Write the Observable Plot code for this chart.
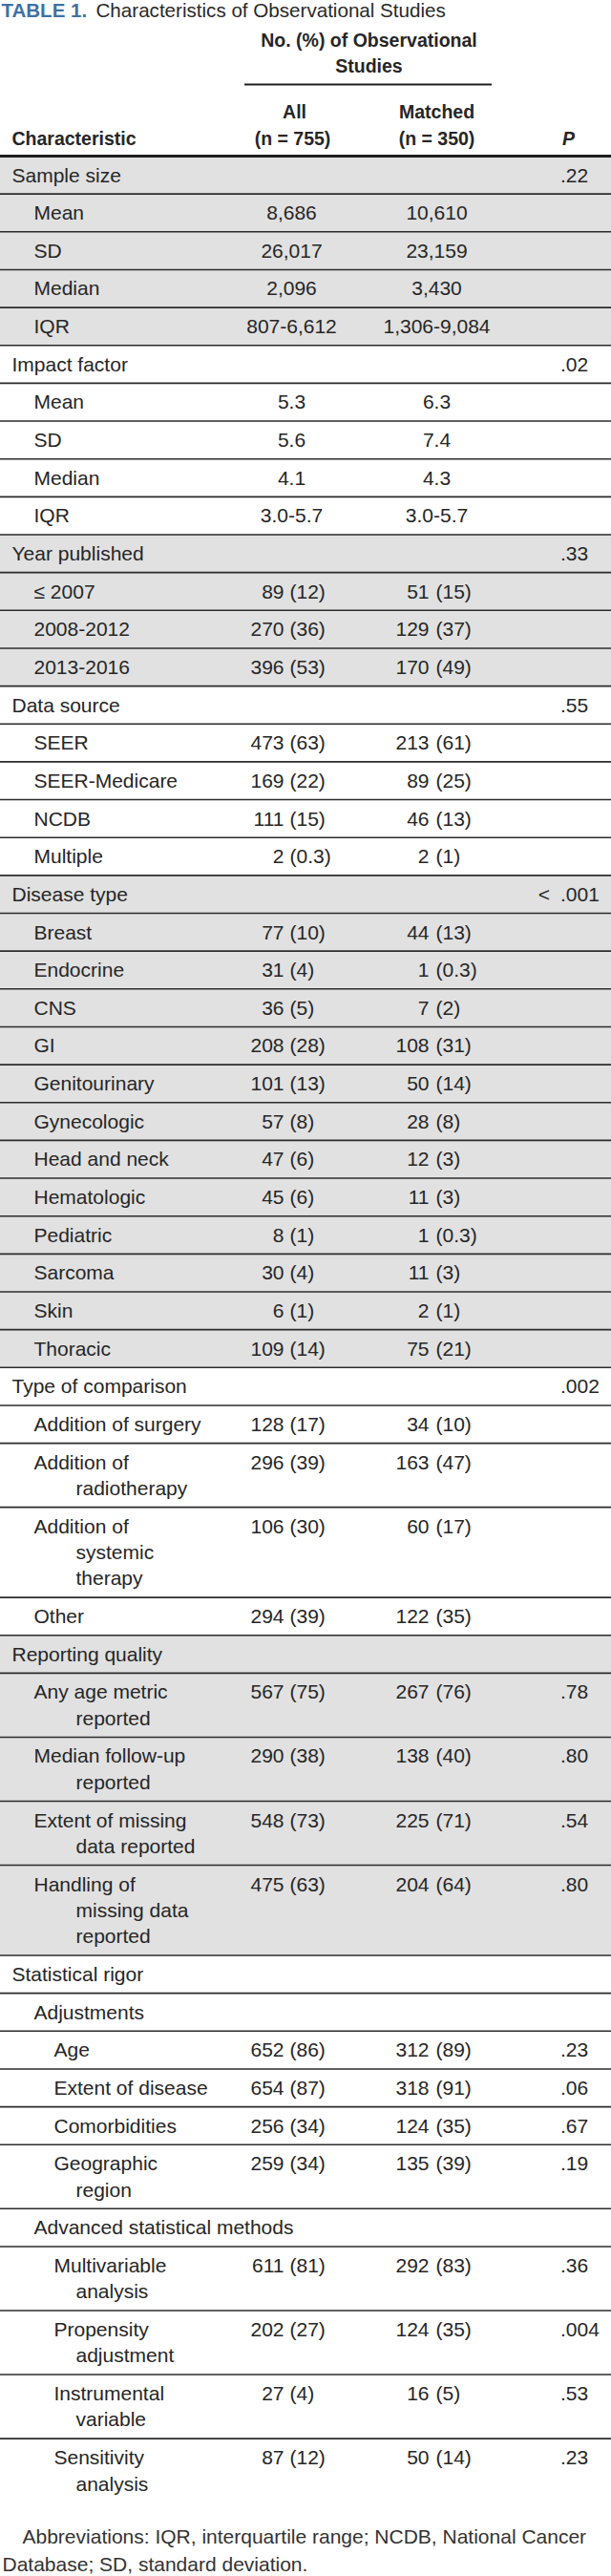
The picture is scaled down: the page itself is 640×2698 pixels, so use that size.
<!DOCTYPE html>
<html>
<head>
<meta charset="utf-8">
<script src="https://cdn.jsdelivr.net/npm/d3@7"></script>
<script src="https://cdn.jsdelivr.net/npm/@observablehq/plot@0.6"></script>
<style>
  html, body { margin: 0; padding: 0; background: #fff; }
  #chart svg { display: block; }
</style>
</head>
<body>
<div id="chart"></div>
<script>
// ---------------- DATA ----------------
const titleLabel = "TABLE 1.";
const titleText = "Characteristics of Observational Studies";
const spannerLines = ["No. (%) of Observational", "Studies"];
const columnHeads = ["All", "Matched"];
const columnNs = ["(n = 755)", "(n = 350)"];
const stubHead = "Characteristic";
const pHead = "P";
const footnoteLines = [
  "Abbreviations: IQR, interquartile range; NCDB, National Cancer",
  "Database; SD, standard deviation."
];

// "|" marks where the label wraps onto the next line
const characteristics = [
  "Sample size", "Mean", "SD", "Median", "IQR",
  "Impact factor", "Mean", "SD", "Median", "IQR",
  "Year published", "≤ 2007", "2008-2012", "2013-2016",
  "Data source", "SEER", "SEER-Medicare", "NCDB", "Multiple",
  "Disease type", "Breast", "Endocrine", "CNS", "GI", "Genitourinary", "Gynecologic",
  "Head and neck", "Hematologic", "Pediatric", "Sarcoma", "Skin", "Thoracic",
  "Type of comparison", "Addition of surgery", "Addition of|radiotherapy",
  "Addition of|systemic|therapy", "Other",
  "Reporting quality", "Any age metric|reported", "Median follow-up|reported",
  "Extent of missing|data reported", "Handling of|missing data|reported",
  "Statistical rigor", "Adjustments", "Age", "Extent of disease", "Comorbidities",
  "Geographic|region", "Advanced statistical methods", "Multivariable|analysis",
  "Propensity|adjustment", "Instrumental|variable", "Sensitivity|analysis"
];
const levels = [
  0, 1, 1, 1, 1,
  0, 1, 1, 1, 1,
  0, 1, 1, 1,
  0, 1, 1, 1, 1,
  0, 1, 1, 1, 1, 1, 1, 1, 1, 1, 1, 1, 1,
  0, 1, 1, 1, 1,
  0, 1, 1, 1, 1,
  0, 1, 2, 2, 2, 2, 1, 2, 2, 2, 2
];
// summary statistics (Sample size and Impact factor blocks)
const statAll = [
  null, "8,686", "26,017", "2,096", "807-6,612",
  null, "5.3", "5.6", "4.1", "3.0-5.7"
];
const statMatched = [
  null, "10,610", "23,159", "3,430", "1,306-9,084",
  null, "6.3", "7.4", "4.3", "3.0-5.7"
];
const _ = null;
const allCount = [
  _, _, _, _, _, _, _, _, _, _,
  _, 89, 270, 396,
  _, 473, 169, 111, 2,
  _, 77, 31, 36, 208, 101, 57, 47, 45, 8, 30, 6, 109,
  _, 128, 296, 106, 294,
  _, 567, 290, 548, 475,
  _, _, 652, 654, 256, 259, _, 611, 202, 27, 87
];
const allPct = [
  _, _, _, _, _, _, _, _, _, _,
  _, 12, 36, 53,
  _, 63, 22, 15, 0.3,
  _, 10, 4, 5, 28, 13, 8, 6, 6, 1, 4, 1, 14,
  _, 17, 39, 30, 39,
  _, 75, 38, 73, 63,
  _, _, 86, 87, 34, 34, _, 81, 27, 4, 12
];
const matchedCount = [
  _, _, _, _, _, _, _, _, _, _,
  _, 51, 129, 170,
  _, 213, 89, 46, 2,
  _, 44, 1, 7, 108, 50, 28, 12, 11, 1, 11, 2, 75,
  _, 34, 163, 60, 122,
  _, 267, 138, 225, 204,
  _, _, 312, 318, 124, 135, _, 292, 124, 16, 50
];
const matchedPct = [
  _, _, _, _, _, _, _, _, _, _,
  _, 15, 37, 49,
  _, 61, 25, 13, 1,
  _, 13, 0.3, 2, 31, 14, 8, 3, 3, 0.3, 3, 1, 21,
  _, 10, 47, 17, 35,
  _, 76, 40, 71, 64,
  _, _, 89, 91, 35, 39, _, 83, 35, 5, 14
];
const pValues = [
  ".22", _, _, _, _,
  ".02", _, _, _, _,
  ".33", _, _, _,
  ".55", _, _, _, _,
  "< .001", _, _, _, _, _, _, _, _, _, _, _, _,
  ".002", _, _, _, _,
  _, ".78", ".80", ".54", ".80",
  _, _, ".23", ".06", ".67", ".19", _, ".36", ".004", ".53", ".23"
];

// ---------------- LAYOUT ----------------
const W = 640, H = 2698;
const TOP = 163, ROW = 39.65, LINE = 27.4, BASE = 27;
const indentX = [12, 35, 56], wrapX = 79;
const allCenter = 305, matchedCenter = 457;
const allCountEnd = 297, allPctStart = 303;
const matchedCountEnd = 449, matchedPctStart = 456;
const pDot = 586.5;
const ink = "#262626";

let yCursor = TOP, group = -1;
const rows = characteristics.map((c, i) => {
  const lines = c.split("|");
  if (levels[i] === 0) group++;
  const y0 = yCursor, y1 = y0 + ROW + LINE * (lines.length - 1);
  yCursor = y1;
  return {i, lines, level: levels[i], group, y0, y1, base: y0 + BASE};
});

const labelLines = rows.flatMap(r => r.lines.map((t, k) => ({
  text: t, x: k === 0 ? indentX[r.level] : wrapX, y: r.base + k * LINE
})));
const grayRows = rows.filter(r => r.group % 2 === 0);
const ruleYs = rows.slice(0, -1).map(r => r.y1);

const statCells = rows.filter(r => r.i < statAll.length && statAll[r.i] != null);
const countRows = rows.filter(r => allCount[r.i] != null);
const pRows = rows.filter(r => pValues[r.i] != null).map(r => {
  const s = pValues[r.i], k = s.indexOf(".");
  return {base: r.base, pre: s.slice(0, k).trim(), rest: s.slice(k)};
});

const fmtPct = v => `(${v})`;

const plot = Plot.plot({
  width: W, height: H, margin: 0,
  x: {domain: [0, W], range: [0, W], axis: null},
  y: {domain: [0, H], range: [0, H], axis: null},
  style: {fontFamily: "'Liberation Sans', Arial, 'DejaVu Sans', sans-serif", fontSize: "21px", background: "#fff", color: ink},
  marks: [
    // row shading
    Plot.rect(grayRows, {x1: 0, x2: W, y1: "y0", y2: "y1", fill: "#e1e1e1"}),
    // row rules
    Plot.ruleY(ruleYs, {x1: 0, x2: W, stroke: "#2b2b2b", strokeWidth: 1.6}),
    Plot.ruleY([TOP], {x1: 0, x2: W, stroke: "#1e1e1e", strokeWidth: 3}),
    Plot.ruleY([88], {x1: 256, x2: 515, stroke: "#1e1e1e", strokeWidth: 2}),
    // title
    Plot.text([titleLabel], {x: 1, y: 17, text: d => d, textAnchor: "start", lineAnchor: "bottom", fontSize: 20.5, fontWeight: "bold", fill: "#3f72a3"}),
    Plot.text([titleText], {x: 100, y: 17, text: d => d, textAnchor: "start", lineAnchor: "bottom", fontSize: 20.6, fill: "#2a2a2a"}),
    // header
    Plot.text(spannerLines, {x: 386, y: (d, i) => 48 + i * 27, text: d => d, textAnchor: "middle", lineAnchor: "bottom", fontSize: 19.5, fontWeight: "bold", fill: ink}),
    Plot.text(columnHeads, {x: (d, i) => [allCenter + 3, matchedCenter][i], y: 123, text: d => d, textAnchor: "middle", lineAnchor: "bottom", fontSize: 19.5, fontWeight: "bold", fill: ink}),
    Plot.text(columnNs, {x: (d, i) => [allCenter + 1, matchedCenter][i], y: 151, text: d => d, textAnchor: "middle", lineAnchor: "bottom", fontSize: 19.5, fontWeight: "bold", fill: ink}),
    Plot.text([stubHead], {x: 12, y: 151, text: d => d, textAnchor: "start", lineAnchor: "bottom", fontSize: 19.5, fontWeight: "bold", fill: ink}),
    Plot.text([pHead], {x: 595, y: 151, text: d => d, textAnchor: "middle", lineAnchor: "bottom", fontSize: 19.5, fontWeight: "bold", fontStyle: "italic", fill: ink}),
    // stub labels
    Plot.text(labelLines, {x: "x", y: "y", text: "text", textAnchor: "start", lineAnchor: "bottom", fontSize: 21, fill: ink}),
    // summary statistics
    Plot.text(statCells, {x: allCenter, y: "base", text: r => statAll[r.i], textAnchor: "middle", lineAnchor: "bottom", fontSize: 21, fill: ink}),
    Plot.text(statCells, {x: matchedCenter, y: "base", text: r => statMatched[r.i], textAnchor: "middle", lineAnchor: "bottom", fontSize: 21, fill: ink}),
    // counts and percentages
    Plot.text(countRows, {x: allCountEnd, y: "base", text: r => String(allCount[r.i]), textAnchor: "end", lineAnchor: "bottom", fontSize: 21, fill: ink}),
    Plot.text(countRows, {x: allPctStart, y: "base", text: r => fmtPct(allPct[r.i]), textAnchor: "start", lineAnchor: "bottom", fontSize: 21, fill: ink}),
    Plot.text(countRows, {x: matchedCountEnd, y: "base", text: r => String(matchedCount[r.i]), textAnchor: "end", lineAnchor: "bottom", fontSize: 21, fill: ink}),
    Plot.text(countRows, {x: matchedPctStart, y: "base", text: r => fmtPct(matchedPct[r.i]), textAnchor: "start", lineAnchor: "bottom", fontSize: 21, fill: ink}),
    // P values, aligned on the decimal point
    Plot.text(pRows, {x: pDot, y: "base", text: "rest", textAnchor: "start", lineAnchor: "bottom", fontSize: 21, fill: ink}),
    Plot.text(pRows.filter(d => d.pre), {x: pDot - 11, y: "base", text: "pre", textAnchor: "end", lineAnchor: "bottom", fontSize: 21, fill: ink}),
    // footnote
    Plot.text(footnoteLines, {x: (d, i) => i === 0 ? 23 : 2, y: (d, i) => 2663 + i * 29.5, text: d => d, textAnchor: "start", lineAnchor: "bottom", fontSize: 21, fill: "#333"})
  ]
});
document.getElementById("chart").append(plot);
</script>
</body>
</html>
